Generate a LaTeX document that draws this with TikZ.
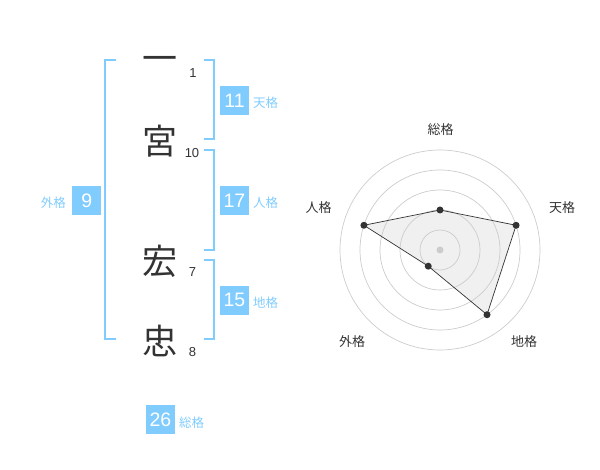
\documentclass[tikz,border=0pt]{standalone}
\usepackage{fontspec}
\setmainfont{Liberation Sans}
\newfontfamily\cjk{Noto Sans CJK JP}
\definecolor{lblue}{HTML}{80CCFF}
\definecolor{dgray}{HTML}{333333}
\definecolor{ring}{HTML}{CCCCCC}
\definecolor{areafill}{HTML}{F0F0F0}
\begin{document}
\begin{tikzpicture}[x=1pt,y=-1pt,
  bigchar/.style={font=\cjk\fontsize{35}{35}\selectfont, text=dgray, inner sep=0pt, anchor=base},
  strokes/.style={font=\fontsize{13}{13}\selectfont, text=dgray, inner sep=0pt},
  numbox/.style={fill=lblue, text=white, minimum size=29pt, inner sep=0pt, font=\fontsize{19.5}{19.5}\selectfont},
  kaku/.style={font=\cjk\fontsize{12.5}{12.5}\selectfont, text=lblue, inner sep=0pt},
  bracket/.style={draw=lblue, line width=2pt},
  axislabel/.style={font=\cjk\fontsize{13}{13}\selectfont, text=dgray, inner sep=0pt},
  dot/.style={circle, fill=dgray, inner sep=0pt, minimum size=7pt},
]
\useasboundingbox (0,0) rectangle (600,470);

% characters
\node[bigchar] (c1) at (160,72) {一};
\node[bigchar] (c2) at (160,155) {宮};
\node[bigchar] (c3) at (160,275) {宏};
\node[bigchar] (c4) at (160,355) {忠};
\node[strokes] (s1) at (193,73) {1};
\node[strokes] (s2) at (192,153) {10};
\node[strokes] (s3) at (192.5,272) {7};
\node[strokes] (s4) at (192.5,352.5) {8};

% brackets
\draw[bracket] (116,60) -- (105,60) -- (105,339) -- (116,339);
\draw[bracket] (204,60) -- (214,60) -- (214,139) -- (204,139);
\draw[bracket] (204,150) -- (214,150) -- (214,250) -- (204,250);
\draw[bracket] (204,260) -- (214,260) -- (214,339) -- (204,339);

% boxes
\node[numbox] (b11) at (234.5,100.3) {11};
\node[kaku, anchor=west] (k11) at (253,103) {天格};
\node[numbox] (b17) at (234.5,200.3) {17};
\node[kaku, anchor=west] (k17) at (253,203) {人格};
\node[numbox] (b15) at (234.5,300.3) {15};
\node[kaku, anchor=west] (k15) at (253,303) {地格};
\node[numbox] (b9) at (86.7,200.3) {9};
\node[kaku, anchor=east] (k9) at (66,203) {外格};
\node[numbox] (b26) at (160.5,419.5) {26};
\node[kaku, anchor=west] (k26) at (179,422.5) {総格};

% radar
\coordinate (c) at (440,250);
\coordinate (p1) at ({440+40*cos(90)},{250-40*sin(90)});
\coordinate (p2) at ({440+80*cos(18)},{250-80*sin(18)});
\coordinate (p3) at ({440+80*cos(-54)},{250-80*sin(-54)});
\coordinate (p4) at ({440+20*cos(-126)},{250-20*sin(-126)});
\coordinate (p5) at ({440+80*cos(162)},{250-80*sin(162)});
\fill[areafill] (p1) -- (p2) -- (p3) -- (p4) -- (p5) -- cycle;
\foreach \r in {20,40,60,80,100} \draw[ring, line width=0.7pt] (c) circle (\r);
\draw[dgray, line width=0.7pt] (p1) -- (p2) -- (p3) -- (p4) -- (p5) -- cycle;
\node[circle, fill=ring, inner sep=0pt, minimum size=7pt] (cdot) at (c) {};
\node[dot] (d1) at (p1) {};
\node[dot] (d2) at (p2) {};
\node[dot] (d3) at (p3) {};
\node[dot] (d4) at (p4) {};
\node[dot] (d5) at (p5) {};
\node[axislabel] (a1) at (440.5,130) {総格};
\node[axislabel] (a2) at (562,208) {天格};
\node[axislabel] (a3) at (524,342) {地格};
\node[axislabel] (a4) at (352,342) {外格};
\node[axislabel] (a5) at (318.5,208) {人格};
\end{tikzpicture}
\end{document}
